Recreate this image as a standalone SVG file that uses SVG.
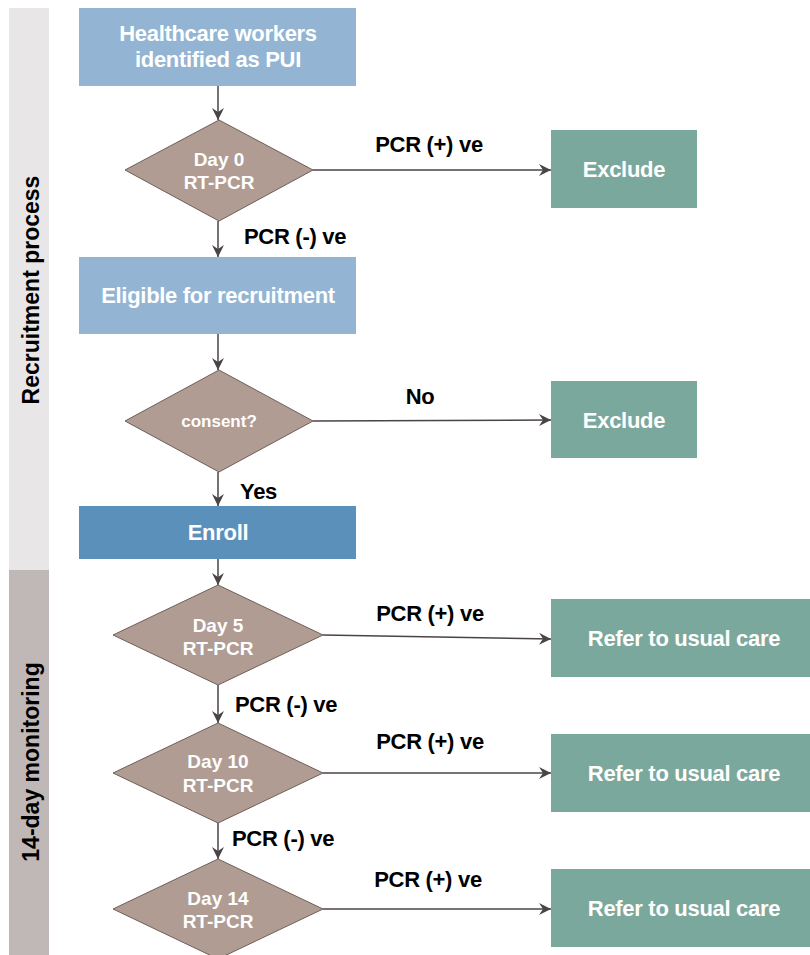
<svg xmlns="http://www.w3.org/2000/svg" width="810" height="955" viewBox="0 0 810 955">
<defs>
<marker id="arr" viewBox="0 0 12 12" refX="12" refY="6" markerWidth="12" markerHeight="12" markerUnits="userSpaceOnUse" orient="auto">
<path d="M0,0 L12,6 L0,12 L4,6 z" fill="#4a4446"/>
</marker>
<style>
text{font-family:"Liberation Sans",Arial,sans-serif;font-weight:bold;}
.wt{fill:#ffffff;text-anchor:middle;font-size:22px;letter-spacing:-0.3px;}
.dt{fill:#ffffff;text-anchor:middle;font-size:19px;}
.lb{fill:#000000;font-size:22px;letter-spacing:-0.3px;}
.side{fill:#000000;font-size:23px;text-anchor:middle;}
.blue{fill:#93b5d3;}
.enr{fill:#5b90bb;}
.dia{fill:#b09c93;stroke:#6f5f59;stroke-width:1;}
.grn{fill:#7ba89c;}
.con{stroke:#4a4446;stroke-width:1.5;fill:none;marker-end:url(#arr);}
</style>
</defs>
<rect width="810" height="955" fill="#ffffff"/>
<g id="lane-recruitment">
<rect x="9" y="8" width="40" height="562" fill="#e8e6e7"/>
<text class="side" transform="translate(39,290) rotate(-90)">Recruitment process</text>
</g>
<g id="lane-monitoring">
<rect x="9" y="570" width="40" height="385" fill="#c0b8b7"/>
<text class="side" transform="translate(39,762) rotate(-90)">14-day monitoring</text>
</g>
<g id="connectors">
<line class="con" x1="218" y1="86" x2="218" y2="120"/>
<line class="con" x1="313" y1="170" x2="551" y2="170"/>
<line class="con" x1="218" y1="221" x2="218" y2="257"/>
<line class="con" x1="218" y1="334" x2="218" y2="370"/>
<line class="con" x1="313" y1="421" x2="551" y2="420"/>
<line class="con" x1="218" y1="472" x2="218" y2="506"/>
<line class="con" x1="218" y1="559" x2="218" y2="585"/>
<line class="con" x1="323" y1="635" x2="551" y2="639"/>
<line class="con" x1="218" y1="685" x2="218" y2="723"/>
<line class="con" x1="323" y1="773" x2="551" y2="773"/>
<line class="con" x1="218" y1="823" x2="218" y2="859"/>
<line class="con" x1="323" y1="909" x2="551" y2="909"/>
<text class="lb" x="429" y="152" text-anchor="middle">PCR (+) ve</text>
<text class="lb" x="244" y="244">PCR (-) ve</text>
<text class="lb" x="420" y="404" text-anchor="middle">No</text>
<text class="lb" x="240" y="499">Yes</text>
<text class="lb" x="430" y="621" text-anchor="middle">PCR (+) ve</text>
<text class="lb" x="235" y="712">PCR (-) ve</text>
<text class="lb" x="430" y="749" text-anchor="middle">PCR (+) ve</text>
<text class="lb" x="232" y="846">PCR (-) ve</text>
<text class="lb" x="428" y="887" text-anchor="middle">PCR (+) ve</text>
</g>
<g id="n-hcw">
<rect class="blue" x="79" y="8" width="277" height="78"/>
<text class="wt" x="218" y="41">Healthcare workers</text>
<text class="wt" x="218" y="67">identified as PUI</text>
</g>
<g id="n-day0">
<polygon class="dia" points="219,120 313,170 219,221 125,170"/>
<text class="dt" x="219" y="166">Day 0</text>
<text class="dt" x="219" y="189">RT-PCR</text>
</g>
<g id="n-exclude1">
<rect class="grn" x="551" y="130" width="146" height="78"/>
<text class="wt" x="624" y="177">Exclude</text>
</g>
<g id="n-eligible">
<rect class="blue" x="79" y="257" width="277" height="77"/>
<text class="wt" x="218" y="303">Eligible for recruitment</text>
</g>
<g id="n-consent">
<polygon class="dia" points="219,370 313,421 219,472 125,421"/>
<text class="dt" x="219" y="427" style="font-size:17px">consent?</text>
</g>
<g id="n-exclude2">
<rect class="grn" x="551" y="381" width="146" height="77"/>
<text class="wt" x="624" y="428">Exclude</text>
</g>
<g id="n-enroll">
<rect class="enr" x="79" y="506" width="277" height="53"/>
<text class="wt" x="218" y="540">Enroll</text>
</g>
<g id="n-day5">
<polygon class="dia" points="218,585 323,635 218,685 113,635"/>
<text class="dt" x="218" y="632">Day 5</text>
<text class="dt" x="218" y="655">RT-PCR</text>
</g>
<g id="n-refer1">
<rect class="grn" x="551" y="599" width="259" height="78"/>
<text class="wt" x="684" y="646">Refer to usual care</text>
</g>
<g id="n-day10">
<polygon class="dia" points="218,723 323,773 218,823 113,773"/>
<text class="dt" x="218" y="768">Day 10</text>
<text class="dt" x="218" y="792">RT-PCR</text>
</g>
<g id="n-refer2">
<rect class="grn" x="551" y="734" width="259" height="78"/>
<text class="wt" x="684" y="781">Refer to usual care</text>
</g>
<g id="n-day14">
<polygon class="dia" points="218,859 323,909 218,959 113,909"/>
<text class="dt" x="218" y="905">Day 14</text>
<text class="dt" x="218" y="928">RT-PCR</text>
</g>
<g id="n-refer3">
<rect class="grn" x="551" y="869" width="259" height="78"/>
<text class="wt" x="684" y="916">Refer to usual care</text>
</g>
</svg>
